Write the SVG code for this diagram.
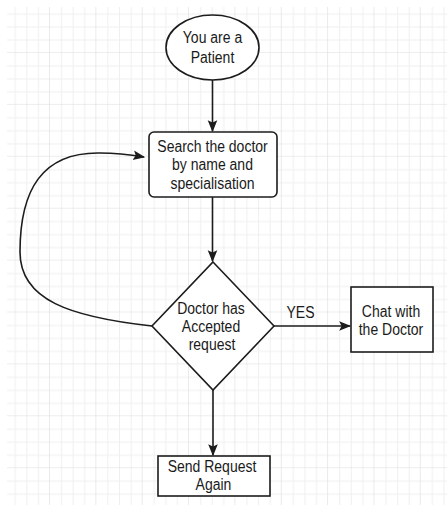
<svg xmlns="http://www.w3.org/2000/svg" width="447" height="508" viewBox="0 0 447 508">
  <style>
    .shape { fill: #ffffff; stroke: #1c1c1c; stroke-width: 1.6; }
    .edge { fill: none; stroke: #1c1c1c; stroke-width: 1.6; }
    .lbl { font-family: "Liberation Sans", Arial, sans-serif; font-size: 14px; fill: #1a1a1a; text-anchor: middle; }
  </style>
  <defs>
    <pattern id="grid" patternUnits="userSpaceOnUse" x="3.65" y="1.1" width="46.35" height="51.9">
      <path d="M11.59 0V51.9M23.18 0V51.9M34.76 0V51.9M0 12.98H46.35M0 25.95H46.35M0 38.93H46.35" stroke="#efefef" stroke-width="1" fill="none"/>
      <path d="M46.35 0V51.9M0 51.9H46.35" stroke="#dcdcdc" stroke-width="1.2" fill="none"/>
    </pattern>
    <marker id="arrow" markerUnits="userSpaceOnUse" markerWidth="12" markerHeight="12" viewBox="0 0 10 10" refX="9" refY="5" orient="auto">
      <path d="M0 1 L10 5 L0 9 L2 5 Z" fill="#1c1c1c"/>
    </marker>
  </defs>
  <rect x="0" y="0" width="447" height="508" fill="#ffffff"/>
  <rect x="7" y="7" width="440" height="498" fill="url(#grid)"/>

  <g id="connectors">
    <path class="edge" d="M212.5 80 V131" marker-end="url(#arrow)"/>
    <path class="edge" d="M212.5 197 V261" marker-end="url(#arrow)"/>
    <path class="edge" d="M274 326 H350" marker-end="url(#arrow)"/>
    <path class="edge" d="M213 390 V455" marker-end="url(#arrow)"/>
    <path class="edge" d="M152 326 C70 317 20 300 20 252 C20 190 42 152 100 153 C118 153 132 155 144 157" marker-end="url(#arrow)"/>
    <text class="lbl" transform="translate(300.5 318) scale(1 1.13)">YES</text>
  </g>

  <g id="patient">
    <ellipse class="shape" cx="212.5" cy="47.5" rx="46.5" ry="32.5"/>
    <text class="lbl" transform="translate(212.5 43) scale(1 1.13)">You are a</text>
    <text class="lbl" transform="translate(212.5 62.5) scale(1 1.13)">Patient</text>
  </g>

  <g id="search">
    <rect class="shape" x="149" y="132" width="128" height="65" rx="5"/>
    <text class="lbl" transform="translate(212.5 151.5) scale(1 1.13)">Search the doctor</text>
    <text class="lbl" transform="translate(212.5 170) scale(1 1.13)">by name and</text>
    <text class="lbl" transform="translate(212.5 188.5) scale(1 1.13)">specialisation</text>
  </g>

  <g id="decision">
    <polygon class="shape" points="213,262 274,326 213,390 152,326"/>
    <text class="lbl" transform="translate(211 314) scale(1 1.13)">Doctor has</text>
    <text class="lbl" transform="translate(211 332) scale(1 1.13)">Accepted</text>
    <text class="lbl" transform="translate(212 350) scale(1 1.13)">request</text>
  </g>

  <g id="chat">
    <rect class="shape" x="351" y="287" width="82" height="65"/>
    <text class="lbl" transform="translate(391 317) scale(1 1.13)">Chat with</text>
    <text class="lbl" transform="translate(391 335) scale(1 1.13)">the Doctor</text>
  </g>

  <g id="resend">
    <rect class="shape" x="158" y="456" width="112" height="40"/>
    <text class="lbl" transform="translate(212 471.5) scale(1 1.13)">Send Request</text>
    <text class="lbl" transform="translate(213.5 490) scale(1 1.13)">Again</text>
  </g>
</svg>
